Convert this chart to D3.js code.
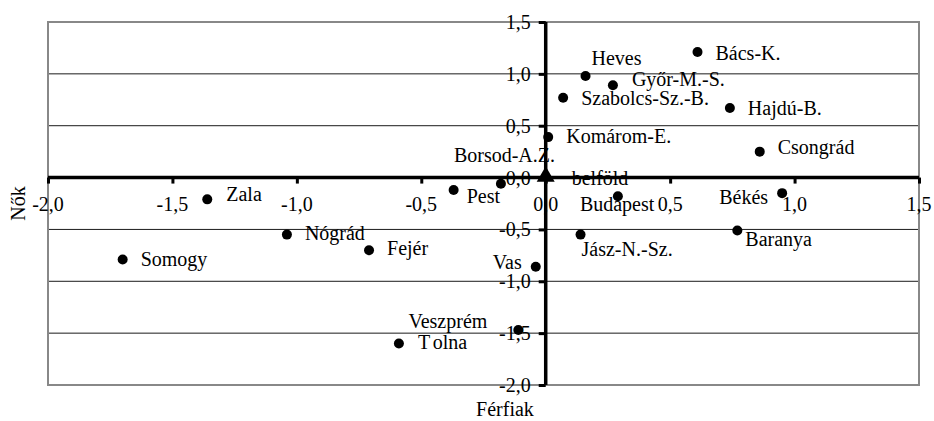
<!DOCTYPE html>
<html>
<head>
<meta charset="utf-8">
<script src="https://cdn.jsdelivr.net/npm/d3@7"></script>
<style>
  html, body { margin: 0; padding: 0; background: #fff; }
  svg { display: block; }
  svg text { font-family: "Liberation Serif", "Times New Roman", Tinos, "DejaVu Serif", serif; }
</style>
</head>
<body>
<svg id="chart" width="934" height="421"></svg>
<script>
// ---- data ----
const counties = ["Zala", "Somogy", "Nógrád", "Fejér", "Tolna", "Veszprém", "Vas", "Jász-N.-Sz.",
  "Pest", "Borsod-A.Z.", "Komárom-E.", "Szabolcs-Sz.-B.", "Heves", "Győr-M.-S.", "Bács-K.",
  "Hajdú-B.", "Csongrád", "Békés", "Baranya", "Budapest"];
const ferfiak = [-1.36, -1.70, -1.04, -0.71, -0.59, -0.11, -0.04, 0.14,
  -0.37, -0.18, 0.01, 0.07, 0.16, 0.27, 0.61,
  0.74, 0.86, 0.95, 0.77, 0.29];
const nok = [-0.21, -0.79, -0.55, -0.70, -1.60, -1.47, -0.86, -0.55,
  -0.12, -0.06, 0.39, 0.77, 0.98, 0.89, 1.21,
  0.67, 0.25, -0.15, -0.51, -0.18];
const referenceName = ["belföld"];
const referenceX = [0];
const referenceY = [0];
const xTicks = [-2.0, -1.5, -1.0, -0.5, 0.0, 0.5, 1.0, 1.5];
const yTicks = [-2.0, -1.5, -1.0, -0.5, 0.0, 0.5, 1.0, 1.5];
const xTitle = "Férfiak";
const yTitle = "Nők";

// ---- layout ----
const svg = d3.select("#chart");
const FONT = '"Liberation Serif", "Times New Roman", Tinos, "DejaVu Serif", serif';
const pLeft = 48, pRight = 919, pTop = 22, pBottom = 385;
const x = d3.scaleLinear().domain([-2, 1.5]).range([pLeft, pRight]);
const y = d3.scaleLinear().domain([-2, 1.5]).range([pBottom, pTop]);
const fmt = v => d3.format(".1f")(v).replace(".", ",").replace("−", "-");
const FS = 20;

// label placement (dx, dy from marker centre; anchor)
const place = {
  "Zala": [19, 2, "start"], "Somogy": [18, 6, "start"], "Nógrád": [18, 5, "start"],
  "Fejér": [18, 5, "start"], "Tolna": [19, 5, "start"], "Veszprém": [-31, -2, "end"],
  "Vas": [-14, 2, "end"], "Jász-N.-Sz.": [1, 21, "start"], "Pest": [13, 13, "start"],
  "Borsod-A.Z.": [-47, -22, "start"], "Komárom-E.": [18, 6, "start"],
  "Szabolcs-Sz.-B.": [18, 7, "start"], "Heves": [6, -11, "start"], "Győr-M.-S.": [19, 1, "start"],
  "Bács-K.": [18, 8, "start"], "Hajdú-B.": [18, 7, "start"], "Csongrád": [18, 2, "start"],
  "Békés": [-14, 11, "end"], "Baranya": [8, 16, "start"], "Budapest": [-38, 15, "start"],
  "belföld": [26, 7.5, "start"]
};

// gridlines
svg.append("g").selectAll("line").data(yTicks.filter(v => v > -2 && v < 1.5 && v !== 0))
  .join("line")
  .attr("x1", pLeft).attr("x2", pRight)
  .attr("y1", d => y(d)).attr("y2", d => y(d))
  .attr("stroke", "#1a1a1a").attr("stroke-width", 1);

// plot border
svg.append("rect")
  .attr("x", pLeft).attr("y", pTop).attr("width", pRight - pLeft).attr("height", pBottom - pTop)
  .attr("fill", "none").attr("stroke", "#888").attr("stroke-width", 2);

// point labels
const pts = counties.map((c, i) => ({ name: c, fx: ferfiak[i], ny: nok[i] }));
const refs = referenceName.map((c, i) => ({ name: c, fx: referenceX[i], ny: referenceY[i] }));
const lbl = svg.append("g").attr("font-size", FS).attr("font-family", FONT).attr("fill", "#000");
[...pts, ...refs].forEach(d => {
  const p = place[d.name] || [18, 6, "start"];
  const t = lbl.append("text")
    .attr("font-family", FONT)
    .attr("x", x(d.fx) + p[0]).attr("y", y(d.ny) + p[1])
    .attr("text-anchor", p[2]);
  if (d.name === "Tolna") {
    t.append("tspan").text("T");
    t.append("tspan").attr("dx", 4).text("olna");
  } else {
    t.text(d.name);
  }
});

// tick labels
svg.append("g").attr("font-size", FS).attr("font-family", FONT).attr("text-anchor", "middle")
  .selectAll("text").data(xTicks).join("text")
  .attr("x", d => x(d)).attr("y", y(0) + 33)
  .text(fmt);
svg.append("g").attr("font-size", FS).attr("font-family", FONT).attr("text-anchor", "end")
  .selectAll("text").data(yTicks).join("text")
  .attr("x", x(0) - 15).attr("y", d => y(d) + 7)
  .text(fmt);

// axes through origin
const xAxis = d3.axisBottom(x).tickValues(xTicks).tickSize(6).tickFormat("");
const gx = svg.append("g").attr("transform", `translate(0,${y(0)})`).call(xAxis);
const yAxis = d3.axisLeft(y).tickValues(yTicks).tickSize(7).tickFormat("");
const gy = svg.append("g").attr("transform", `translate(${x(0)},0)`).call(yAxis);
[gx, gy].forEach(g => {
  g.select(".domain").attr("stroke", "#000").attr("stroke-width", 3.5);
  g.selectAll(".tick line").attr("stroke", "#000").attr("stroke-width", 3);
});
gx.select(".domain").attr("d", `M${pLeft},0H${pRight}`);
gy.select(".domain").attr("d", `M0,${pTop}V${pBottom}`);

// markers
svg.append("g").selectAll("circle").data(pts).join("circle")
  .attr("cx", d => x(d.fx)).attr("cy", d => y(d.ny)).attr("r", 5)
  .attr("fill", "#000");
svg.append("g").selectAll("path").data(refs).join("path")
  .attr("d", d3.symbol(d3.symbolTriangle, 140))
  .attr("transform", d => `translate(${x(d.fx)},${y(d.ny) - 1})`)
  .attr("fill", "#000");

// axis titles
svg.append("text").attr("font-size", FS).attr("font-family", FONT).attr("text-anchor", "middle")
  .attr("x", 505).attr("y", 416).text(xTitle);
svg.append("text").attr("font-size", FS).attr("font-family", FONT).attr("text-anchor", "middle")
  .attr("transform", `translate(25,${(pTop + pBottom) / 2}) rotate(-90)`).text(yTitle);
</script>
</body>
</html>
